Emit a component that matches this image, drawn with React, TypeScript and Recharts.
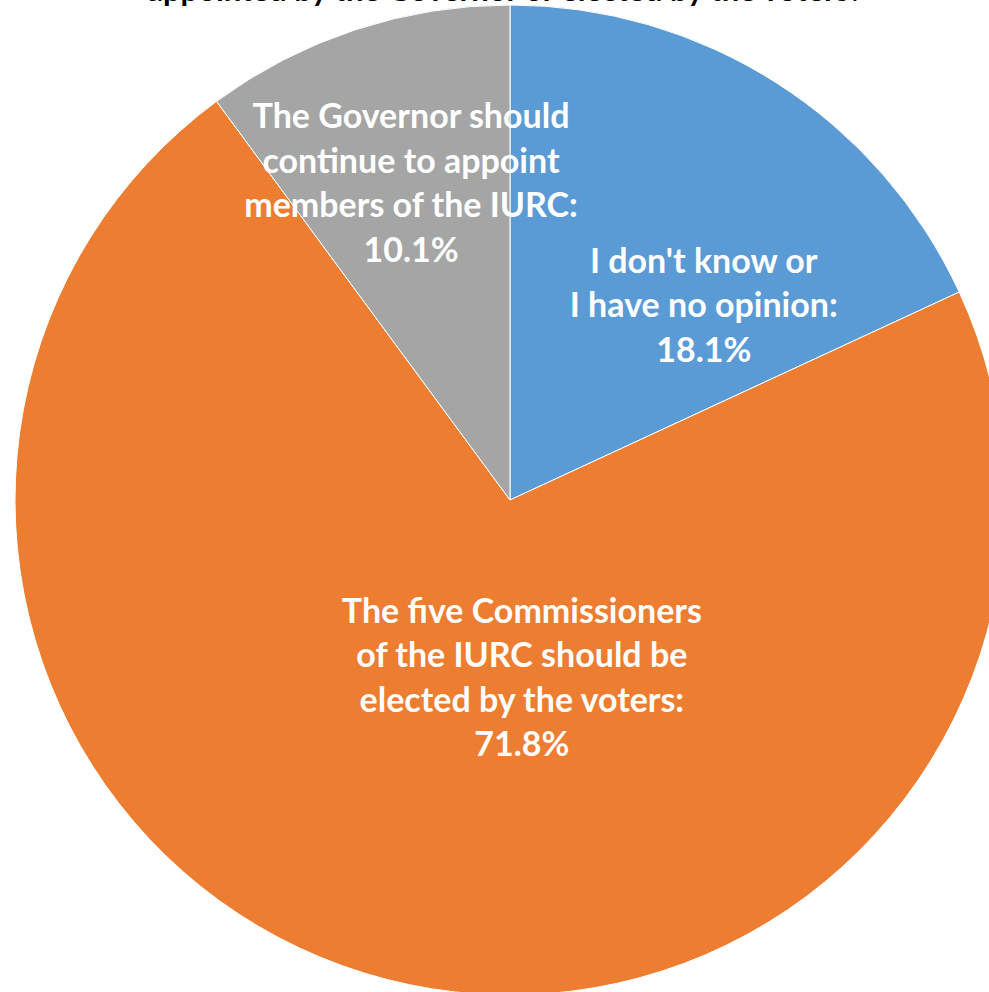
import { Cell, Pie, PieChart } from 'recharts';

const categories = [
  "I don't know or I have no opinion",
  'The five Commissioners of the IURC should be elected by the voters',
  'The Governor should continue to appoint members of the IURC',
];
const shares = [18.1, 71.8, 10.1];
const labelLines = [
  ["I don't know or", 'I have no opinion:'],
  ['The five Commissioners', 'of the IURC should be', 'elected by the voters:'],
  ['The Governor should', 'continue to appoint', 'members of the IURC:'],
];
const colors = ['#5B9BD5', '#ED7D31', '#A5A5A5'];

// where Excel placed each label, as angle (deg) and distance from centre
const labelPolar = [
  { angle: 45, r: 274 },
  { angle: -86.2, r: 179 },
  { angle: 107.4, r: 331 },
];

const data = categories.map((name, i) => ({ name, value: shares[i] }));

const RAD = Math.PI / 180;
const LINE_H = 44.5;

function renderLabel(props: any) {
  const { cx, cy, index } = props;
  const p = labelPolar[index];
  const x = cx + p.r * Math.cos(p.angle * RAD);
  const y = cy - p.r * Math.sin(p.angle * RAD) - 3;
  const lines = [...labelLines[index], `${shares[index].toFixed(1)}%`];
  const top = y - ((lines.length - 1) * LINE_H) / 2;
  return (
    <text
      key={`lbl-${index}`}
      x={x}
      y={top}
      fill="#fff"
      textAnchor="middle"
      dominantBaseline="central"
      fontFamily="Lato, sans-serif"
      fontWeight={700}
      fontSize={34}
    >
      {lines.map((l, k) => (
        <tspan key={k} x={x} y={top + k * LINE_H} dominantBaseline="central">
          {l}
        </tspan>
      ))}
    </text>
  );
}

export default function App() {
  return (
    <div style={{ position: 'absolute', left: 0, top: 0, width: 989, height: 992, background: '#fff' }}>
      <PieChart width={989} height={992}>
        <text
          x={505}
          y={1}
          textAnchor="middle"
          fontFamily="Lato, sans-serif"
          fontWeight={700}
          fontSize={31}
          fill="#000"
        >
          appointed by the Governor or elected by the voters?
        </text>
        <Pie
          data={data}
          dataKey="value"
          nameKey="name"
          cx={505}
          cy={495}
          outerRadius={495}
          startAngle={90}
          endAngle={-270}
          stroke="#fff"
          strokeWidth={1}
          label={renderLabel}
          labelLine={false}
          isAnimationActive={false}
        >
          {data.map((d, i) => (
            <Cell key={d.name} fill={colors[i]} />
          ))}
        </Pie>
      </PieChart>
    </div>
  );
}
